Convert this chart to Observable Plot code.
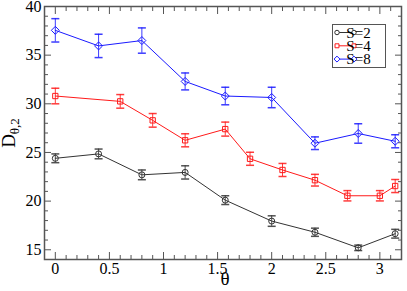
<!DOCTYPE html>
<html><head><meta charset="utf-8">
<script src="https://cdn.jsdelivr.net/npm/d3@7"></script>
<script src="https://cdn.jsdelivr.net/npm/@observablehq/plot@0.6"></script>
<style>
body{margin:0;background:#fff}
svg text, svg tspan { font-family: "Liberation Serif", "Times New Roman", serif !important; }
</style>
</head><body><div id="chart"></div>
<script>
// ---- data ----
const seriesNames = ["S=2", "S=4", "S=8"];
const thetaS2 = [0, 0.4, 0.8, 1.2, 1.5708, 2.0, 2.4, 2.8, 3.1416];
const valS2   = [24.4, 24.85, 22.7, 22.95, 20.1, 17.95, 16.8, 15.2, 16.65];
const errS2   = [0.45, 0.5, 0.5, 0.68, 0.45, 0.54, 0.42, 0.28, 0.45];
const thetaS4 = [0, 0.6, 0.9, 1.2, 1.5708, 1.8, 2.1, 2.4, 2.7, 3.0, 3.1416];
const valS4   = [30.8, 30.25, 28.3, 26.25, 27.4, 24.35, 23.2, 22.15, 20.55, 20.55, 21.55];
const errS4   = [0.8, 0.7, 0.7, 0.67, 0.72, 0.67, 0.67, 0.6, 0.53, 0.53, 0.67];
const thetaS8 = [0, 0.4, 0.8, 1.2, 1.5708, 2.0, 2.4, 2.8, 3.1416];
const valS8   = [37.55, 35.95, 36.5, 32.3, 30.8, 30.65, 25.95, 26.95, 26.15];
const errS8   = [1.2, 1.2, 1.3, 0.87, 0.9, 1.05, 0.65, 1.0, 0.67];
const xMajor = [0, 0.5, 1, 1.5, 2, 2.5, 3];
const xMajorLabels = ["0", "0.5", "1", "1.5", "2", "2.5", "3"];
const xMinor = [-0.1,0.1,0.2,0.3,0.4,0.6,0.7,0.8,0.9,1.1,1.2,1.3,1.4,1.6,1.7,1.8,1.9,2.1,2.2,2.3,2.4,2.6,2.7,2.8,2.9,3.1,3.2];
const yMajor = [15, 20, 25, 30, 35, 40];
const yMajorLabels = ["15", "20", "25", "30", "35", "40"];
const yMinor = [14,16,17,18,19,21,22,23,24,26,27,28,29,31,32,33,34,36,37,38,39];
const xLabel = "θ";
const yLabel = "Dθ,2";
const colors = ["#333333", "#ff1a1a", "#1a1aff"];

// ---- table ----
const rows = [];
[[thetaS2, valS2, errS2], [thetaS4, valS4, errS4], [thetaS8, valS8, errS8]].forEach(([t, v, e], k) => {
  t.forEach((th, i) => rows.push({series: seriesNames[k], theta: th, v: v[i], e: e[i]}));
});

const capSym = {draw(ctx) { ctx.moveTo(-4, 0); ctx.lineTo(4, 0); }};
const diamondSym = {draw(ctx, size) { const h = Math.sqrt(size) * 0.75; ctx.moveTo(0, -h); ctx.lineTo(h, 0); ctx.lineTo(0, h); ctx.lineTo(-h, 0); ctx.closePath(); }};
const symbols = [d3.symbolCircle, d3.symbolSquare, diamondSym];
const axisColor = "#555";
const blank = () => "";
const fmtX = d => xMajorLabels[xMajor.indexOf(d)];
const fmtY = d => yMajorLabels[yMajor.indexOf(d)];
const serif = "Liberation Serif";

const chart = Plot.plot({
  width: 407, height: 291,
  marginLeft: 44, marginRight: 6, marginTop: 6, marginBottom: 32,
  style: {fontFamily: serif, fontSize: "16px", color: "#000", background: "#fff", overflow: "visible"},
  x: {domain: [-0.1, 3.2], label: null},
  y: {domain: [14, 40], label: null},
  color: {domain: seriesNames, range: colors},
  symbol: {domain: seriesNames, range: symbols},
  marks: [
    Plot.axisX({ticks: xMajor, anchor: "bottom", tickSize: -7, tickFormat: blank, stroke: axisColor, label: null}),
    Plot.axisX({ticks: xMinor, anchor: "bottom", tickSize: -4, tickFormat: blank, stroke: axisColor, label: null}),
    Plot.axisX({ticks: xMajor, anchor: "top", tickSize: -7, tickFormat: blank, stroke: axisColor, label: null}),
    Plot.axisX({ticks: xMinor, anchor: "top", tickSize: -4, tickFormat: blank, stroke: axisColor, label: null}),
    Plot.axisX({ticks: xMajor, anchor: "bottom", tickSize: 0, tickPadding: 3.5, tickFormat: fmtX, fontFamily: serif, fontSize: 16, label: null}),
    Plot.axisY({ticks: yMajor, anchor: "left", tickSize: -7, tickFormat: blank, stroke: axisColor, label: null}),
    Plot.axisY({ticks: yMinor, anchor: "left", tickSize: -4, tickFormat: blank, stroke: axisColor, label: null}),
    Plot.axisY({ticks: yMajor, anchor: "right", tickSize: -7, tickFormat: blank, stroke: axisColor, label: null}),
    Plot.axisY({ticks: yMinor, anchor: "right", tickSize: -4, tickFormat: blank, stroke: axisColor, label: null}),
    Plot.axisY({ticks: yMajor, anchor: "left", tickSize: 0, tickPadding: 3, tickFormat: fmtY, fontFamily: serif, fontSize: 16, label: null}),
    Plot.frame({stroke: axisColor, strokeWidth: 1.5}),
    Plot.ruleX(rows, {x: "theta", y1: d => d.v - d.e, y2: d => d.v + d.e, stroke: "series", strokeOpacity: 0.85}),
    Plot.dot(rows, {x: "theta", y: d => d.v + d.e, symbol: capSym, stroke: "series", fill: "none", strokeOpacity: 0.85}),
    Plot.dot(rows, {x: "theta", y: d => d.v - d.e, symbol: capSym, stroke: "series", fill: "none", strokeOpacity: 0.85}),
    Plot.line(rows, {x: "theta", y: "v", z: "series", stroke: "series", strokeWidth: 1}),
    Plot.dot(rows, {x: "theta", y: "v", symbol: "series", stroke: "series", fill: "none", r: 3, strokeWidth: 1}),
    Plot.text([xLabel], {frameAnchor: "bottom", dx: 2, dy: 25, fontSize: 19, fontFamily: serif}),
    Plot.text([yLabel], {frameAnchor: "left", textAnchor: "middle", dx: -36, rotate: -90, fontSize: 19, fontFamily: serif})
  ]
});
document.getElementById("chart").appendChild(chart);

// subscript for the y label
d3.select(chart).selectAll("text").filter(function () { return this.textContent === yLabel; }).each(function () {
  const t = d3.select(this);
  t.text("");
  t.append("tspan").text("D");
  t.append("tspan").attr("font-size", 13).attr("dy", "0.35em").text("θ,2");
});

// legend
const svg = d3.select(chart);
const lg = svg.append("g").attr("font-size", 15);
lg.append("rect").attr("x", 332.5).attr("y", 24.5).attr("width", 53).attr("height", 43)
  .attr("fill", "white").attr("stroke", axisColor).attr("stroke-width", 1);
seriesNames.forEach((s, i) => {
  const y = 32.5 + i * 13.3;
  lg.append("line").attr("x1", 337).attr("x2", 354).attr("y1", y).attr("y2", y).attr("stroke", colors[i]);
  [337, 354].forEach(x => lg.append("path").attr("d", d3.symbol(symbols[i], Math.PI * 5)()).attr("transform", `translate(${x},${y})`)
    .attr("fill", "white").attr("stroke", colors[i]));
  lg.append("text").attr("x", 358.5).attr("y", y + 5).attr("fill", "#000").text(s);
});

// force the serif face on every text
svg.selectAll("text, tspan").attr("font-family", serif).style("font-family", serif);
</script>
</body></html>
